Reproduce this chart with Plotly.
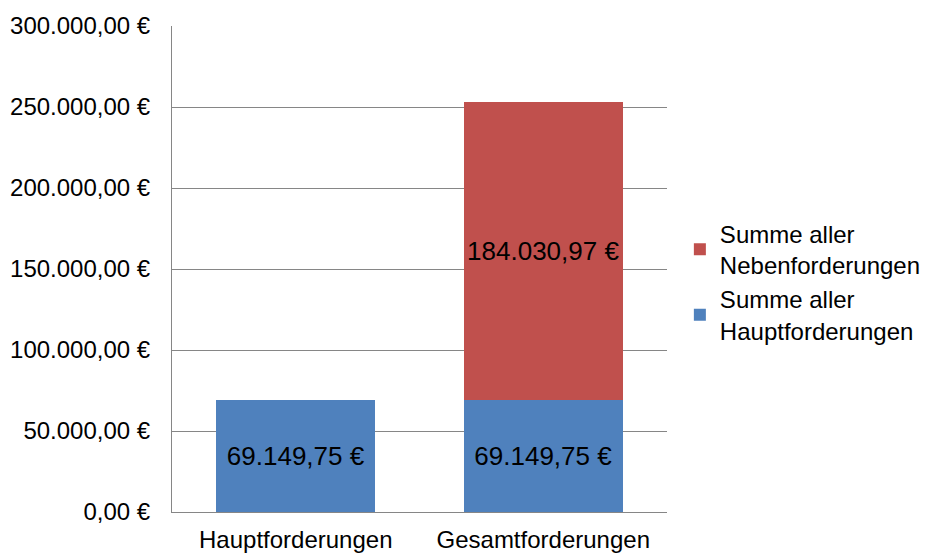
import plotly.graph_objects as go

categories = ["Hauptforderungen", "Gesamtforderungen"]
haupt_values = [69149.75, 69149.75]
neben_values = [None, 184030.97]
series_names = ["Summe aller<br>Hauptforderungen", "Summe aller<br>Nebenforderungen"]
y_ticks = [0, 50000, 100000, 150000, 200000, 250000, 300000]


def de_euro(v):
    s = f"{v:,.2f}".replace(",", "X").replace(".", ",").replace("X", ".")
    return s + " €"


y_tick_text = [de_euro(v) for v in y_ticks]

FONT = "Liberation Sans, Arial, sans-serif"

fig = go.Figure()
fig.add_trace(go.Bar(
    x=categories, y=haupt_values, name=series_names[0],
    marker=dict(color="#4F81BD", line=dict(width=0)),
    texttemplate="%{y:,.2f} €", textposition="inside", insidetextanchor="middle",
    textangle=0, constraintext="none",
    textfont=dict(family=FONT, size=26, color="black"),
))
fig.add_trace(go.Bar(
    x=categories, y=neben_values, name=series_names[1],
    marker=dict(color="#C0504D", line=dict(width=0)),
    texttemplate="%{y:,.2f} €", textposition="inside", insidetextanchor="middle",
    textangle=0, constraintext="none",
    textfont=dict(family=FONT, size=26, color="black"),
))

# page body adds an 8px offset, so the figure is sized to the remaining area
fig.update_layout(
    width=922, height=546,
    barmode="stack", bargap=0.357,
    separators=",.",
    plot_bgcolor="white", paper_bgcolor="white",
    margin=dict(l=164, r=263, t=18, b=42, pad=0, autoexpand=False),
    font=dict(family=FONT, size=24, color="black"),
    legend=dict(
        traceorder="reversed",
        x=1.026, xanchor="left", y=0.473, yanchor="middle",
        font=dict(family=FONT, size=24, color="black"),
        itemwidth=30, tracegroupgap=8,
        bgcolor="rgba(0,0,0,0)",
    ),
    showlegend=True,
)
fig.update_yaxes(
    range=[0, 300000], tickvals=y_ticks, ticktext=y_tick_text,
    showgrid=True, gridcolor="#868686", gridwidth=1,
    showline=True, linecolor="#868686", linewidth=1,
    zeroline=False, ticks="", ticklabelstandoff=16, automargin=False,
    tickfont=dict(family=FONT, size=24, color="black"),
)
fig.update_xaxes(
    showline=True, linecolor="#868686", linewidth=1,
    ticks="", ticklabelstandoff=6, automargin=False,
    tickfont=dict(family=FONT, size=24, color="black"),
)

fig.write_html("out.html")
